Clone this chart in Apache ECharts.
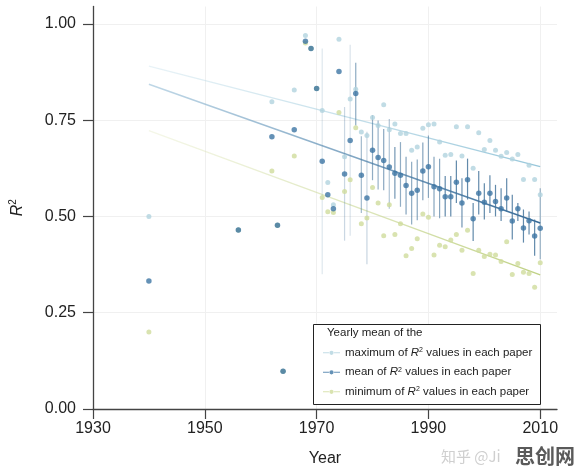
<!DOCTYPE html>
<html>
<head>
<meta charset="utf-8">
<script src="https://cdn.jsdelivr.net/npm/echarts@6/dist/echarts.min.js"></script>
<style>
  html, body { margin: 0; padding: 0; background: #fff; }
  #main { width: 577px; height: 472px; }
</style>
</head>
<body>
<div id="main"></div>
<script>
// yearly means of the R2 values (max / mean / min per paper)
const years = [1940, 1956, 1962, 1963, 1964, 1966, 1968, 1969, 1970, 1971, 1972, 1973, 1974, 1975, 1976, 1977, 1978, 1979, 1980,
  1981, 1982, 1983, 1984, 1985, 1986, 1987, 1988, 1989, 1990, 1991, 1992, 1993, 1994, 1995, 1996, 1997, 1998, 1999, 2000,
  2001, 2002, 2003, 2004, 2005, 2006, 2007, 2008, 2009, 2010]
const maxR2 = [0.50, 0.465, 0.798, 0.477, 0.098, 0.828, 0.97, 0.936, 0.832, 0.775, 0.588, 0.53, 0.96, 0.655, 0.805, 0.83, 0.719, 0.71, 0.757,
  0.736, 0.79, 0.725, 0.74, 0.715, 0.715, 0.672, 0.68, 0.729, 0.738, 0.74, 0.693, 0.659, 0.661, 0.733, 0.657, 0.733, 0.625, 0.717, 0.674,
  0.697, 0.672, 0.656, 0.666, 0.649, 0.661, 0.596, 0.633, 0.596, 0.556]
const meanR2 = [0.332, 0.465, 0.707, 0.477, 0.098, 0.725, 0.955, 0.936, 0.832, 0.643, 0.556, 0.52, 0.876, 0.61, 0.697, 0.819, 0.607, 0.548, 0.672,
  0.653, 0.645, 0.628, 0.612, 0.607, 0.58, 0.56, 0.568, 0.618, 0.629, 0.577, 0.572, 0.551, 0.551, 0.589, 0.535, 0.595, 0.494, 0.56, 0.537,
  0.56, 0.539, 0.52, 0.548, 0.488, 0.52, 0.47, 0.489, 0.449, 0.469]
const minR2 = [0.20, 0.465, 0.618, 0.477, 0.098, 0.657, 0.95, 0.936, 0.832, 0.549, 0.512, 0.51, 0.77, 0.565, 0.595, 0.73, 0.481, 0.496, 0.575,
  0.535, 0.45, 0.53, 0.453, 0.481, 0.398, 0.417, 0.442, 0.506, 0.498, 0.40, 0.425, 0.421, 0.439, 0.453, 0.412, 0.464, 0.352, 0.412, 0.396,
  0.402, 0.40, 0.383, 0.434, 0.349, 0.378, 0.355, 0.352, 0.316, 0.38]

// confidence intervals around the yearly mean
const ciYears = [1971, 1975, 1976, 1977, 1978, 1979, 1980, 1981, 1982, 1983, 1984, 1985, 1986, 1987, 1988, 1989, 1990,
  1991, 1992, 1993, 1994, 1995, 1996, 1997, 1998, 1999, 2000, 2001, 2002, 2003, 2004, 2005, 2006, 2007, 2008, 2009, 2010]
const ciLow = [0.35, 0.437, 0.45, 0.736, 0.509, 0.376, 0.594, 0.57, 0.568, 0.52, 0.546, 0.525, 0.505, 0.479, 0.49, 0.542, 0.548,
  0.50, 0.495, 0.50, 0.50, 0.535, 0.471, 0.544, 0.436, 0.505, 0.492, 0.509, 0.50, 0.488, 0.513, 0.44, 0.488, 0.432, 0.453, 0.398, 0.389]
const ciHigh = [0.936, 0.784, 0.946, 0.899, 0.708, 0.72, 0.763, 0.749, 0.727, 0.753, 0.68, 0.693, 0.655, 0.642, 0.648, 0.692, 0.71,
  0.655, 0.65, 0.605, 0.605, 0.645, 0.599, 0.65, 0.535, 0.618, 0.586, 0.607, 0.582, 0.573, 0.599, 0.556, 0.535, 0.518, 0.513, 0.492, 0.573]

// linear fit end points
const fitYears = [1940, 2010]
const fitMax = [0.89, 0.629]
const fitMean = [0.843, 0.483]
const fitMin = [0.723, 0.348]

const xTicks = [1930, 1950, 1970, 1990, 2010]
const yTicks = [0, 0.25, 0.5, 0.75, 1]

const legendText = {
    max: 'maximum of {r|R}{s|2} values in each paper',
    mean: 'mean of {r|R}{s|2} values in each paper',
    min: 'minimum of {r|R}{s|2} values in each paper'
}

const FONT = 'Liberation Sans, Arial, sans-serif'
const legendIcon = 'path://M0,2.5h7v1h-7z M13,2.5h7v1h-7z M7.5,3a2.5,2.5 0 1,0 5,0a2.5,2.5 0 1,0 -5,0z'

function pairs(xs, ys) {
    return xs.map((x, i) => [x, ys[i]])
}

function fade(from, to) {
    return {
        type: 'linear', x: 0, y: 0, x2: 1, y2: 0,
        colorStops: [{ offset: 0, color: from }, { offset: 1, color: to }]
    }
}

const myChart = echarts.init(document.getElementById('main'), null, { renderer: 'canvas' })

const option = {
    animation: false,
    textStyle: { fontFamily: FONT },
    grid: { left: 84.4, right: 20, top: 6.5, bottom: 59, containLabel: false },
    xAxis: {
        type: 'value',
        min: 1930,
        max: 2013,
        name: 'Year',
        nameLocation: 'middle',
        nameGap: 42,
        nameTextStyle: { fontSize: 16, color: '#222', fontFamily: FONT },
        axisLine: { show: true, lineStyle: { color: '#444', width: 1.3 } },
        axisTick: { show: true, length: 10, lineStyle: { color: '#444', width: 1.2 }, customValues: xTicks },
        axisLabel: { fontSize: 16, color: '#222', margin: 12, customValues: xTicks, formatter: (v) => String(v) },
        splitLine: { show: true, lineStyle: { color: '#f0f0f0', width: 1 } }
    },
    yAxis: {
        type: 'value',
        min: 0,
        max: 1.045,
        name: '{r|R}{s|2}',
        nameLocation: 'middle',
        nameRotate: 90,
        nameGap: 66,
        nameTextStyle: {
            rich: {
                r: { fontSize: 16, fontStyle: 'italic', color: '#222', fontFamily: FONT },
                s: { fontSize: 10, color: '#222', padding: [0, 0, 9, 0], fontFamily: FONT }
            }
        },
        axisLine: { show: true, lineStyle: { color: '#444', width: 1.3 } },
        axisTick: { show: true, length: 10, lineStyle: { color: '#444', width: 1.2 }, customValues: yTicks },
        axisLabel: {
            fontSize: 16, color: '#222', margin: 17, customValues: yTicks,
            formatter: (v) => v.toFixed(2)
        },
        splitLine: { show: true, lineStyle: { color: '#f0f0f0', width: 1 } }
    },
    legend: {
        data: ['max', 'mean', 'min'],
        orient: 'vertical',
        left: 318,
        top: 341,
        z: 100,
        itemWidth: 17,
        itemHeight: 4.25,
        itemGap: 6,
        icon: legendIcon,
        selectedMode: false,
        formatter: (name) => legendText[name],
        textStyle: {
            fontSize: 11.5, color: '#222', lineHeight: 13.5, fontFamily: FONT,
            rich: {
                r: { fontSize: 11.5, fontStyle: 'italic', color: '#222', fontFamily: FONT },
                s: { fontSize: 7, color: '#222', padding: [0, 0, 5, 0], fontFamily: FONT }
            }
        }
    },
    graphic: [
        {
            type: 'rect', left: 313, top: 324, z: 90,
            shape: { width: 227, height: 80 },
            style: { fill: '#fff', stroke: '#222', lineWidth: 1 }
        },
        {
            type: 'text', left: 327, top: 327, z: 91,
            style: { text: 'Yearly mean of the', fill: '#222', font: '11.5px ' + FONT }
        },
        {
            type: 'text', left: 441, top: 449, z: 91,
            style: { text: '知乎 @Ji', fill: '#cfcfcf', font: '15px "Noto Sans CJK SC", sans-serif' }
        },
        {
            type: 'text', left: 515, top: 446, z: 92,
            style: { text: '思创网', fill: '#5a5a5a', font: 'bold 20px "Noto Sans CJK SC", sans-serif' }
        }
    ],
    series: [
        {
            name: 'fitMax', type: 'line', data: pairs(fitYears, fitMax), symbol: 'none', z: 1,
            lineStyle: { width: 1.3, color: fade('rgba(190,220,232,0.35)', 'rgba(150,198,218,1)') }
        },
        {
            name: 'fitMean', type: 'line', data: pairs(fitYears, fitMean), symbol: 'none', z: 1,
            lineStyle: { width: 1.5, color: fade('rgba(150,190,215,0.6)', 'rgba(52,104,150,1)') }
        },
        {
            name: 'fitMin', type: 'line', data: pairs(fitYears, fitMin), symbol: 'none', z: 1,
            lineStyle: { width: 1.3, color: fade('rgba(225,232,190,0.35)', 'rgba(190,208,130,1)') }
        },
        {
            name: 'ci', type: 'custom', z: 2,
            data: ciYears.map((y, i) => [y, ciLow[i], ciHigh[i]]),
            renderItem(params, api) {
                const lo = api.value(1)
                const hi = api.value(2)
                const p1 = api.coord([api.value(0), lo])
                const p2 = api.coord([api.value(0), hi])
                return {
                    type: 'line',
                    shape: { x1: p1[0], y1: p1[1], x2: p2[0], y2: p2[1] },
                    style: { stroke: '#46759c', lineWidth: 1.2, opacity: Math.min(0.85, 0.1 / (hi - lo)) }
                }
            }
        },
        {
            name: 'max', type: 'scatter', data: pairs(years, maxR2), symbolSize: 5, z: 3,
            itemStyle: { color: '#b2d3df' }
        },
        {
            name: 'min', type: 'scatter', data: pairs(years, minR2), symbolSize: 5, z: 3,
            itemStyle: { color: '#cfdc9c' }
        },
        {
            name: 'mean', type: 'scatter', data: pairs(years, meanR2), symbolSize: 5.5, z: 4,
            itemStyle: { color: '#3d76a4' }
        }
    ]
}

option && myChart.setOption(option, true)
</script>
</body>
</html>
